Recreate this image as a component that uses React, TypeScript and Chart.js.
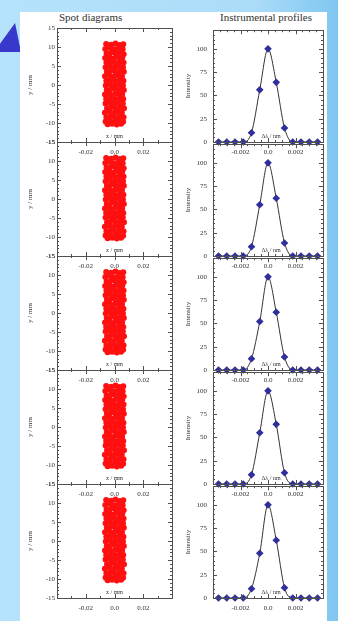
import React, { useEffect, useRef } from "react";
import { Chart, registerables } from "chart.js";

Chart.register(...registerables);

// ---------- data ----------
const spotPoints: [number, number][] = [
  [-0.0058, 10.8], [-0.0024, 10.6], [0.0007, 10.9], [0.0036, 10.5], [0.0061, 10.7],
  [-0.0064, 9.5], [-0.0032, 9.8], [-0.0002, 9.4], [0.0029, 9.7], [0.0057, 9.4],
  [-0.0055, 8.3], [-0.0022, 8.6], [0.001, 8.2], [0.0039, 8.5], [0.0064, 8.1],
  [-0.0065, 7.1], [-0.0034, 7.3], [-0.0005, 7.0], [0.0025, 7.4], [0.0054, 7.2],
  [-0.0056, 5.9], [-0.0026, 6.2], [0.0003, 5.8], [0.0034, 6.1], [0.0063, 5.9],
  [-0.0062, 4.7], [-0.0031, 5.0], [0.0001, 4.6], [0.003, 4.9], [0.0059, 4.7],
  [-0.0053, 3.5], [-0.0023, 3.8], [0.0008, 3.4], [0.0038, 3.7], [0.0065, 3.5],
  [-0.0066, 2.3], [-0.0036, 2.6], [-0.0006, 2.2], [0.0023, 2.5], [0.0052, 2.3],
  [-0.0057, 1.1], [-0.0027, 1.4], [0.0004, 1.0], [0.0034, 1.3], [0.0062, 1.1],
  [-0.0061, -0.1], [-0.003, 0.2], [0.0002, -0.2], [0.0031, 0.1], [0.0059, -0.1],
  [-0.0054, -1.3], [-0.0022, -1.0], [0.0009, -1.4], [0.0038, -1.1], [0.0065, -1.3],
  [-0.0066, -2.5], [-0.0035, -2.2], [-0.0006, -2.6], [0.0024, -2.3], [0.0053, -2.5],
  [-0.0058, -3.7], [-0.0028, -3.4], [0.0003, -3.8], [0.0033, -3.5], [0.0061, -3.7],
  [-0.0062, -4.9], [-0.003, -4.6], [0.0, -5.0], [0.003, -4.7], [0.0058, -4.9],
  [-0.0052, -6.1], [-0.0024, -5.8], [0.0007, -6.2], [0.0037, -5.9], [0.0066, -6.1],
  [-0.0067, -7.3], [-0.0037, -7.0], [-0.0007, -7.4], [0.0022, -7.1], [0.0051, -7.3],
  [-0.0056, -8.5], [-0.0026, -8.2], [0.0005, -8.6], [0.0035, -8.3], [0.0063, -8.5],
  [-0.0062, -9.6], [-0.0031, -9.4], [0.0001, -9.8], [0.0032, -9.5], [0.006, -9.7],
  [-0.0048, -10.3], [-0.0016, -10.2], [0.0016, -10.4], [0.0046, -10.2],
];

const profileX = [
  -0.0036, -0.003, -0.0024, -0.0018, -0.0012, -0.0006, 0, 0.0006, 0.0012,
  0.0018, 0.0024, 0.003, 0.0036,
];
const profile1 = [0, 0, 0, 0, 10, 56, 100, 64, 15, 0, 0, 0, 0];
const profile2 = [0, 0, 0, 0, 10, 55, 100, 62, 14, 0, 0, 0, 0];
const profile3 = [0, 0, 0, 0, 12, 52, 100, 62, 14, 0, 0, 0, 0];
const profile4 = [0, 0, 0, 0, 10, 55, 100, 64, 12, 0, 0, 0, 0];
const profile5 = [0, 0, 0, 0, 10, 48, 100, 62, 11, 0, 0, 0, 0];
const profiles = [profile1, profile2, profile3, profile4, profile5];

const spotXTicks = [-0.02, 0, 0.02];
const spotYTicks = [-15, -10, -5, 0, 5, 10, 15];
const profXTicks = [-0.002, 0, 0.002];
const profYTicks = [0, 25, 50, 75, 100];

// ---------- layout ----------
const PANEL_TOP = 28;
const PANEL_H = 114;
const FONT = "'Liberation Serif', 'DejaVu Serif', serif";
const TXT = "#333333";

const fmt = (v: number) => (v === 0 ? "0.0" : String(v));

function framePlugin(opts: {
  xMinor: number[];
  xMajor: number[];
  yMinor: number[];
  yMajor: number[];
  xTitle: string;
  yTitle: string;
  xTitleDx: number;
  yTitleDx: number;
}) {
  return {
    id: "frame",
    afterDraw(chart: any) {
      const { ctx, chartArea: a, scales } = chart;
      const xs = scales.x;
      const ys = scales.y;
      ctx.save();
      ctx.strokeStyle = "#505050";
      ctx.lineWidth = 1;
      ctx.strokeRect(Math.round(a.left) + 0.5, Math.round(a.top) + 0.5, Math.round(a.right - a.left), Math.round(a.bottom - a.top));
      ctx.beginPath();
      const tick = (vals: number[], len: number) => {
        vals.forEach((v) => {
          const px = Math.round(xs.getPixelForValue(v)) + 0.5;
          ctx.moveTo(px, a.bottom);
          ctx.lineTo(px, a.bottom - len);
          ctx.moveTo(px, a.top);
          ctx.lineTo(px, a.top + len);
        });
      };
      const ytick = (vals: number[], len: number) => {
        vals.forEach((v) => {
          const py = Math.round(ys.getPixelForValue(v)) + 0.5;
          ctx.moveTo(a.left, py);
          ctx.lineTo(a.left + len, py);
          ctx.moveTo(a.right, py);
          ctx.lineTo(a.right - len, py);
        });
      };
      tick(opts.xMinor, 2);
      tick(opts.xMajor, 4);
      ytick(opts.yMinor, 2);
      ytick(opts.yMajor, 4);
      ctx.stroke();

      ctx.fillStyle = TXT;
      ctx.font = `6px ${FONT}`;
      ctx.textAlign = "center";
      ctx.textBaseline = "bottom";
      ctx.fillText(opts.xTitle, (a.left + a.right) / 2 + opts.xTitleDx, a.bottom - 3);

      ctx.font = `7px ${FONT}`;
      ctx.translate(a.left - opts.yTitleDx, (a.top + a.bottom) / 2);
      ctx.rotate(-Math.PI / 2);
      ctx.textBaseline = "middle";
      ctx.fillText(opts.yTitle, 0, 0);
      ctx.restore();
    },
  };
}

const spotXMinor = [-0.04, -0.03, -0.01, 0.01, 0.03, 0.04];
const spotYMinor = [-14, -13, -12, -11, -9, -8, -7, -6, -4, -3, -2, -1, 1, 2, 3, 4, 6, 7, 8, 9, 11, 12, 13, 14];
const profXMinor = [-0.0035, -0.003, -0.0025, -0.0015, -0.001, -0.0005, 0.0005, 0.001, 0.0015, 0.0025, 0.003, 0.0035];
const profYMinor = [5, 10, 15, 20, 30, 35, 40, 45, 55, 60, 65, 70, 80, 85, 90, 95, 105, 110, 115];

function tickFont() {
  return { family: FONT, size: 7 };
}

function SpotPanel({ index }: { index: number }) {
  const ref = useRef<HTMLCanvasElement>(null);
  useEffect(() => {
    if (!ref.current) return;
    const chart = new Chart(ref.current, {
      type: "scatter",
      data: {
        datasets: [
          {
            data: spotPoints.map(([x, y]) => ({ x, y })),
            backgroundColor: "#ff1010",
            borderWidth: 0,
            pointRadius: 3,
            pointHoverRadius: 3,
          },
        ],
      },
      options: {
        animation: false,
        responsive: false,
        maintainAspectRatio: false,
        events: [],
        layout: { padding: { top: 8, right: 8, bottom: 0, left: 0 } },
        plugins: { legend: { display: false }, tooltip: { enabled: false } },
        scales: {
          x: {
            type: "linear",
            min: -0.04,
            max: 0.04,
            grid: { display: false, drawTicks: false },
            border: { display: false },
            afterBuildTicks: (s: any) => {
              s.ticks = spotXTicks.map((v) => ({ value: v }));
            },
            afterFit: (s: any) => {
              s.height = 20;
            },
            ticks: {
              callback: (v: any) => fmt(Number(v)),
              font: tickFont(),
              color: TXT,
              padding: 6,
              maxRotation: 0,
              autoSkip: false,
            },
          },
          y: {
            type: "linear",
            min: -15,
            max: 15,
            grid: { display: false, drawTicks: false },
            border: { display: false },
            afterBuildTicks: (s: any) => {
              s.ticks = spotYTicks.map((v) => ({ value: v }));
            },
            afterFit: (s: any) => {
              s.width = 37;
            },
            ticks: {
              callback: (v: any) => String(v),
              font: tickFont(),
              color: TXT,
              padding: 2,
              autoSkip: false,
            },
          },
        },
      } as any,
      plugins: [
        framePlugin({
          xMinor: spotXMinor,
          xMajor: spotXTicks,
          yMinor: spotYMinor,
          yMajor: spotYTicks,
          xTitle: "x / mm",
          yTitle: "y / mm",
          xTitleDx: 0,
          yTitleDx: 27,
        }),
      ],
    });
    return () => chart.destroy();
  }, [index]);
  const top = PANEL_TOP + PANEL_H * index - 8;
  return (
    <canvas
      ref={ref}
      width={160}
      height={142}
      style={{ position: "absolute", left: 20, top, width: 160, height: 142 }}
    />
  );
}

function ProfilePanel({ index }: { index: number }) {
  const ref = useRef<HTMLCanvasElement>(null);
  useEffect(() => {
    if (!ref.current) return;
    const values = profiles[index];
    const chart = new Chart(ref.current, {
      type: "line",
      data: {
        datasets: [
          {
            data: profileX.map((x, i) => ({ x, y: values[i] })),
            borderColor: "#333",
            borderWidth: 1,
            tension: 0.4,
            cubicInterpolationMode: "monotone",
            pointStyle: "rectRot",
            pointRadius: 3.8,
            pointHoverRadius: 3.8,
            pointBackgroundColor: "#2e2e9c",
            pointBorderColor: "#2e2e9c",
            pointBorderWidth: 0,
            clip: false,
          },
        ],
      },
      options: {
        animation: false,
        responsive: false,
        maintainAspectRatio: false,
        events: [],
        layout: { padding: { top: 8, right: 5, bottom: 0, left: 0 } },
        plugins: { legend: { display: false }, tooltip: { enabled: false } },
        scales: {
          x: {
            type: "linear",
            min: -0.004,
            max: 0.004,
            grid: { display: false, drawTicks: false },
            border: { display: false },
            afterBuildTicks: (s: any) => {
              s.ticks = profXTicks.map((v) => ({ value: v }));
            },
            afterFit: (s: any) => {
              s.height = 20;
            },
            ticks: {
              callback: (v: any) => fmt(Number(v)),
              font: tickFont(),
              color: TXT,
              padding: 6,
              maxRotation: 0,
              autoSkip: false,
            },
          },
          y: {
            type: "linear",
            min: 0,
            max: 120,
            grid: { display: false, drawTicks: false },
            border: { display: false },
            afterBuildTicks: (s: any) => {
              s.ticks = profYTicks.map((v) => ({ value: v }));
            },
            afterFit: (s: any) => {
              s.width = 43;
            },
            ticks: {
              callback: (v: any) => String(v),
              font: tickFont(),
              color: TXT,
              padding: 6,
              autoSkip: false,
            },
          },
        },
      } as any,
      plugins: [
        framePlugin({
          xMinor: profXMinor,
          xMajor: profXTicks,
          yMinor: profYMinor,
          yMajor: profYTicks,
          xTitle: "Δλ / nm",
          yTitle: "Intensity",
          xTitleDx: 3,
          yTitleDx: 25,
        }),
      ],
    });
    return () => chart.destroy();
  }, [index]);
  const top = PANEL_TOP + PANEL_H * index - 8;
  return (
    <canvas
      ref={ref}
      width={158}
      height={142}
      style={{ position: "absolute", left: 170, top, width: 158, height: 142 }}
    />
  );
}

export default function App() {
  const idx = [0, 1, 2, 3, 4];
  return (
    <div
      style={{
        position: "absolute",
        left: 0,
        top: 0,
        width: 338,
        height: 621,
        overflow: "hidden",
        background: "linear-gradient(90deg, #b6e2fb 0%, #abdcf8 75%, #7fc6f1 100%)",
      }}
    >
      <div
        style={{
          position: "absolute",
          left: -6,
          top: 23,
          width: 27,
          height: 29,
          background: "#3838cc",
          clipPath: "polygon(78% 0, 100% 100%, 0 100%)",
        }}
      />
      <div
        style={{
          position: "absolute",
          left: 20,
          top: 12,
          width: 307,
          height: 609,
          background: "#ffffff",
        }}
      />
      <div
        style={{
          position: "absolute",
          left: 59,
          top: 11,
          font: `11px ${FONT}`,
          color: TXT,
          whiteSpace: "nowrap",
          lineHeight: "12px",
        }}
      >
        Spot diagrams
      </div>
      <div
        style={{
          position: "absolute",
          left: 213,
          top: 11,
          width: 106,
          textAlign: "center",
          font: `11px ${FONT}`,
          color: TXT,
          whiteSpace: "nowrap",
          lineHeight: "12px",
        }}
      >
        Instrumental profiles
      </div>
      {idx.map((i) => (
        <SpotPanel key={"s" + i} index={i} />
      ))}
      {idx.map((i) => (
        <ProfilePanel key={"p" + i} index={i} />
      ))}
    </div>
  );
}
